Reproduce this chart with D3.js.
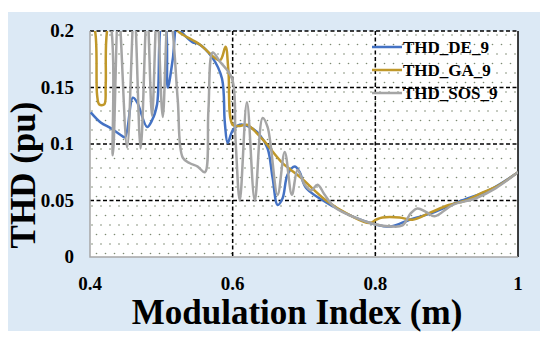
<!DOCTYPE html>
<meta charset="utf-8">
<head>
  <title>THD vs modulation index</title>
  <script src="https://cdn.jsdelivr.net/npm/d3@7"></script>
  <style>
    body { margin: 0; background: #fff; }
    text { font-family: "Liberation Serif", "Times New Roman", serif; font-weight: bold; fill: #000; }
  </style>
</head>
<body>
<svg width="550" height="340"></svg>
<script>

  // modulation index / THD values (values > 0.2 run off the top)
  var mDE  = [0.401, 0.415, 0.429, 0.443, 0.449, 0.460, 0.466, 0.480, 0.487, 0.494, 0.501, 0.505, 0.509, 0.516, 0.522, 0.530, 0.544, 0.551, 0.572, 0.585, 0.589, 0.593, 0.600, 0.610, 0.624, 0.638, 0.649, 0.656, 0.663, 0.670, 0.677, 0.687, 0.694, 0.703, 0.743, 0.771, 0.799, 0.822, 0.848, 0.880, 0.917, 0.959, 1.0];
  var thdDE = [0.128, 0.119, 0.114, 0.108, 0.106, 0.141, 0.137, 0.115, 0.121, 0.135, 0.21, 0.21, 0.150, 0.175, 0.205, 0.198, 0.190, 0.189, 0.176, 0.158, 0.119, 0.101, 0.112, 0.117, 0.115, 0.108, 0.096, 0.070, 0.046, 0.052, 0.073, 0.080, 0.075, 0.061, 0.044, 0.035, 0.029, 0.027, 0.033, 0.039, 0.049, 0.059, 0.075];

  var mGA  = [0.400, 0.407, 0.410, 0.413, 0.420, 0.422, 0.425, 0.45, 0.50, 0.519, 0.523, 0.554, 0.582, 0.590, 0.594, 0.600, 0.610, 0.620, 0.642, 0.670, 0.694, 0.731, 0.764, 0.792, 0.801, 0.810, 0.834, 0.852, 0.876, 0.903, 0.927, 0.950, 0.969, 1.0];
  var thdGA = [0.21, 0.200, 0.143, 0.135, 0.135, 0.152, 0.205, 0.25, 0.23, 0.205, 0.200, 0.188, 0.174, 0.186, 0.165, 0.117, 0.116, 0.117, 0.104, 0.083, 0.071, 0.050, 0.037, 0.030, 0.033, 0.035, 0.035, 0.033, 0.039, 0.046, 0.050, 0.057, 0.062, 0.075];

  var mSOS  = [0.400, 0.425, 0.432, 0.440, 0.452, 0.462, 0.471, 0.480, 0.487, 0.494, 0.502, 0.510, 0.515, 0.523, 0.530, 0.540, 0.551, 0.561, 0.566, 0.572, 0.582, 0.599, 0.604, 0.610, 0.620, 0.631, 0.642, 0.649, 0.663, 0.673, 0.683, 0.691, 0.701, 0.710, 0.719, 0.729, 0.743, 0.771, 0.799, 0.822, 0.838, 0.850, 0.859, 0.871, 0.883, 0.908, 0.941, 0.969, 1.0];
  var thdSOS = [0.24, 0.22, 0.090, 0.22, 0.097, 0.22, 0.096, 0.22, 0.125, 0.22, 0.124, 0.22, 0.205, 0.139, 0.088, 0.083, 0.080, 0.075, 0.130, 0.181, 0.173, 0.158, 0.104, 0.050, 0.137, 0.050, 0.123, 0.115, 0.055, 0.093, 0.055, 0.077, 0.064, 0.059, 0.064, 0.055, 0.044, 0.035, 0.029, 0.027, 0.028, 0.039, 0.043, 0.040, 0.036, 0.046, 0.052, 0.061, 0.075];

  var seriesNames = ["THD_DE_9", "THD_GA_9", "THD_SOS_9"];
  var seriesColors = ["#4472c4", "#c0982a", "#a5a5a5"];
  var xTicks = [0.4, 0.6, 0.8, 1];
  var yTicks = [0, 0.05, 0.1, 0.15, 0.2];

  var series = [
    { name: seriesNames[0], m: mDE, v: thdDE },
    { name: seriesNames[1], m: mGA, v: thdGA },
    { name: seriesNames[2], m: mSOS, v: thdSOS }
  ];

  var pL = 90, pR = 518, pT = 31, pB = 257;

  var x = d3.scaleLinear().domain([0.4, 1]).range([pL, pR]);
  var y = d3.scaleLinear().domain([0, 0.2]).range([pB, pT]);

  var svg = d3.select("svg");

  // light blue frame
  svg.append("rect")
    .attr("x", 8).attr("y", 12)
    .attr("width", 532).attr("height", 319)
    .attr("fill", "#dce9f5");

  // dotted plot background
  var defs = svg.append("defs");
  var pat = defs.append("pattern")
    .attr("id", "dots")
    .attr("patternUnits", "userSpaceOnUse")
    .attr("x", pL).attr("y", pT)
    .attr("width", 9).attr("height", 19);
  pat.append("rect").attr("width", 9).attr("height", 19).attr("fill", "#fff");
  pat.append("circle").attr("cx", 2).attr("cy", 4).attr("r", 0.8).attr("fill", "#7d8a72");
  pat.append("circle").attr("cx", 6.5).attr("cy", 13.5).attr("r", 0.8).attr("fill", "#7d8a72");

  defs.append("clipPath").attr("id", "plotclip")
    .append("rect")
      .attr("x", pL).attr("y", pT)
      .attr("width", pR - pL).attr("height", pB - pT);

  svg.append("rect")
    .attr("x", pL).attr("y", pT)
    .attr("width", pR - pL).attr("height", pB - pT)
    .attr("fill", "url(#dots)");

  // dashed grid
  svg.selectAll("line.hgrid")
    .data(yTicks.filter(function(d) { return d > 0; }))
    .enter().append("line")
      .attr("class", "hgrid")
      .attr("x1", pL).attr("x2", pR)
      .attr("y1", function(d) { return y(d); })
      .attr("y2", function(d) { return y(d); })
      .attr("stroke", "#000").attr("stroke-width", 1.5)
      .attr("stroke-dasharray", "4,2.5");

  svg.selectAll("line.vgrid")
    .data([0.6, 0.8])
    .enter().append("line")
      .attr("class", "vgrid")
      .attr("y1", pT).attr("y2", pB)
      .attr("x1", function(d) { return x(d); })
      .attr("x2", function(d) { return x(d); })
      .attr("stroke", "#000").attr("stroke-width", 1.5)
      .attr("stroke-dasharray", "4,2.5");

  // axis borders
  svg.append("line")
    .attr("x1", pR).attr("x2", pR).attr("y1", pT).attr("y2", pB)
    .attr("stroke", "#000").attr("stroke-width", 1.5);
  svg.append("path")
    .attr("d", "M" + pL + "," + pT + "V" + pB + "H" + pR)
    .attr("fill", "none").attr("stroke", "#a6a6a6").attr("stroke-width", 1.5);

  // lines
  var line = d3.line()
    .x(function(d) { return x(d[0]); })
    .y(function(d) { return y(d[1]); })
    .curve(d3.curveCatmullRom.alpha(0.5));

  svg.append("g")
    .attr("clip-path", "url(#plotclip)")
    .selectAll("path")
      .data(series)
    .enter().append("path")
      .attr("fill", "none")
      .attr("stroke", function(d, i) { return seriesColors[i]; })
      .attr("stroke-width", 2.5)
      .attr("d", function(d) { return line(d3.zip(d.m, d.v)); });

  // tick labels
  svg.selectAll("text.ytick")
    .data(yTicks)
    .enter().append("text")
      .attr("class", "ytick")
      .attr("x", 74)
      .attr("y", function(d) { return y(d) + 6; })
      .attr("text-anchor", "end")
      .attr("font-size", 19)
      .text(function(d) { return d; });

  svg.selectAll("text.xtick")
    .data(xTicks)
    .enter().append("text")
      .attr("class", "xtick")
      .attr("x", function(d) { return x(d); })
      .attr("y", 290)
      .attr("text-anchor", "middle")
      .attr("font-size", 19)
      .text(function(d) { return d; });

  // axis titles
  svg.append("text")
    .attr("x", 297).attr("y", 324)
    .attr("text-anchor", "middle")
    .attr("font-size", 35)
    .text("Modulation Index (m)");

  svg.append("text")
    .attr("transform", "translate(35,175) rotate(-90)")
    .attr("text-anchor", "middle")
    .attr("font-size", 35)
    .text("THD (pu)");

  // legend
  var leg = svg.selectAll("g.leg")
    .data(series)
    .enter().append("g")
      .attr("class", "leg")
      .attr("transform", function(d, i) { return "translate(372," + (47 + i * 23) + ")"; });
  leg.append("line")
    .attr("x1", 0).attr("x2", 30)
    .attr("stroke", function(d, i) { return seriesColors[i]; })
    .attr("stroke-width", 2.5);
  leg.append("text")
    .attr("x", 31).attr("y", 6)
    .attr("font-size", 17)
    .text(function(d) { return d.name; });

</script>
</body>
</html>
